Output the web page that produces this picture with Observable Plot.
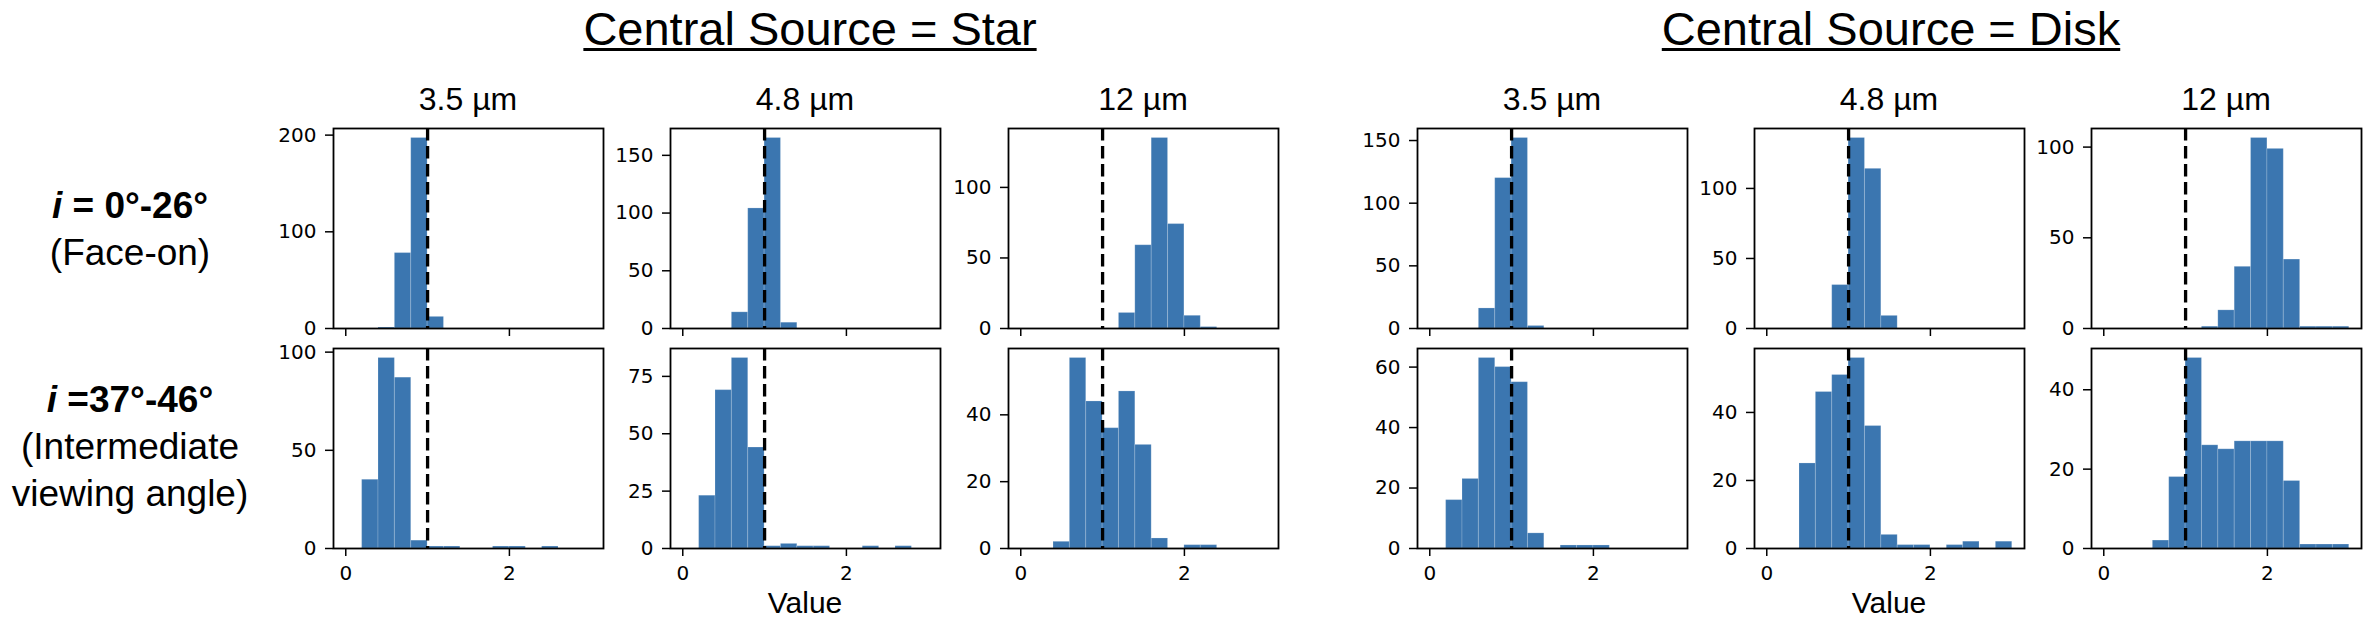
<!DOCTYPE html>
<html>
<head>
<meta charset="utf-8">
<script src="https://cdn.jsdelivr.net/npm/d3@7"></script>
<script src="https://cdn.jsdelivr.net/npm/@observablehq/plot@0.6"></script>
<style>
  body { margin: 0; background: #fff; }
  #fig { position: relative; width: 2370px; height: 624px; background: #fff; overflow: hidden;
         font-family: "Liberation Sans", Arial, Helvetica, sans-serif; color: #000; }
  .t { position: absolute; white-space: nowrap; line-height: 1; transform: translateX(-50%); text-align: center; }
  .panel { position: absolute; }
</style>
</head>
<body>
<div id="fig"></div>
<script>
// ---------------- data ----------------
const groupTitles = ["Central Source = Star", "Central Source = Disk"];
const wavelengths = ["3.5 µm", "4.8 µm", "12 µm"];
const rowLabelLines = [
  ["<b><i>i</i> = 0°-26°</b>", "(Face-on)"],
  ["<b><i>i</i> =37°-46°</b>", "(Intermediate", "viewing angle)"]
];
const xAxisLabel = "Value";
const binEdges = [0, 0.2, 0.4, 0.6, 0.8, 1.0, 1.2, 1.4, 1.6, 1.8, 2.0, 2.2, 2.4, 2.6, 2.8, 3.0];
const referenceValue = 1;
const xTicks = [0, 2];

// counts per bin (15 bins of width 0.2 from 0 to 3)
const star_faceOn_3p5  = [0, 0, 1, 78, 197, 12, 0, 0, 0, 0, 0, 0, 0, 0, 0];
const star_faceOn_4p8  = [0, 0, 0, 14, 104, 165, 5, 0, 0, 0, 0, 0, 0, 0, 0];
const star_faceOn_12   = [0, 0, 0, 0, 0, 0, 11, 59, 135, 74, 9, 1, 0, 0, 0];
const star_inter_3p5   = [0, 35, 97, 87, 4, 1, 1, 0, 0, 1, 1, 0, 1, 0, 0];
const star_inter_4p8   = [0, 23, 69, 83, 44, 1, 2, 1, 1, 0, 0, 1, 0, 1, 0];
const star_inter_12    = [0, 0, 2, 57, 44, 36, 47, 31, 3, 0, 1, 1, 0, 0, 0];
const disk_faceOn_3p5  = [0, 0, 0, 16, 120, 152, 2, 0, 0, 0, 0, 0, 0, 0, 0];
const disk_faceOn_4p8  = [0, 0, 0, 0, 31, 136, 114, 9, 0, 0, 0, 0, 0, 0, 0];
const disk_faceOn_12   = [0, 0, 0, 0, 0, 0, 1, 10, 34, 105, 99, 38, 1, 1, 1];
const disk_inter_3p5   = [0, 16, 23, 63, 60, 55, 5, 0, 1, 1, 1, 0, 0, 0, 0];
const disk_inter_4p8   = [0, 0, 25, 46, 51, 56, 36, 4, 1, 1, 0, 1, 2, 0, 2];
const disk_inter_12    = [0, 0, 0, 2, 18, 48, 26, 25, 27, 27, 27, 17, 1, 1, 1];

// y tick labels per panel
const yTicks_star_faceOn = [[0, 100, 200], [0, 50, 100, 150], [0, 50, 100]];
const yTicks_star_inter  = [[0, 50, 100], [0, 25, 50, 75], [0, 20, 40]];
const yTicks_disk_faceOn = [[0, 50, 100, 150], [0, 50, 100], [0, 50, 100]];
const yTicks_disk_inter  = [[0, 20, 40, 60], [0, 20, 40], [0, 20, 40]];

// ---------------- layout ----------------
const fig = document.getElementById("fig");
const BAR = "#3b76b0";
const W = 270, H = 200;
const ML = 70, MR = 10, MT = 10, MB = 52;
const colLeft = [333, 670, 1008, 1417, 1754, 2091];
const rowTop = [127.5, 348];

const panels = [
  [star_faceOn_3p5, star_faceOn_4p8, star_faceOn_12, disk_faceOn_3p5, disk_faceOn_4p8, disk_faceOn_12],
  [star_inter_3p5, star_inter_4p8, star_inter_12, disk_inter_3p5, disk_inter_4p8, disk_inter_12]
];
const ticks = [
  [...yTicks_star_faceOn, ...yTicks_disk_faceOn],
  [...yTicks_star_inter, ...yTicks_disk_inter]
];

function panel(counts, yt, row, col) {
  const bins = counts
    .map((c, i) => ({x1: binEdges[i], x2: binEdges[i + 1], count: c}))
    .filter(d => d.count > 0);
  const ymax = 1.05 * d3.max(counts);
  const svg = Plot.plot({
    width: ML + W + MR,
    height: MT + H + MB,
    marginLeft: ML, marginRight: MR, marginTop: MT, marginBottom: MB,
    x: {domain: [-0.15, 3.15]},
    y: {domain: [0, ymax]},
    style: {fontFamily: "'DejaVu Sans', sans-serif", fontSize: "20px", background: "transparent", overflow: "visible", color: "#000"},
    marks: [
      Plot.rect(bins, {x1: "x1", x2: "x2", y1: 0, y2: "count", fill: BAR, stroke: "#ffffff", strokeOpacity: 0.18, strokeWidth: 1}),
      Plot.ruleX([referenceValue], {stroke: "#000", strokeWidth: 3.3, strokeDasharray: "12.6,5.4"}),
      Plot.axisY({ticks: yt, tickSize: 8, tickPadding: 9, strokeWidth: 1.5, label: null, tickFormat: d => String(d)}),
      Plot.axisX({ticks: xTicks, tickSize: 8, tickPadding: 9, strokeWidth: 1.5, label: null,
                  tickFormat: row === 0 ? () => "" : d => String(d)}),
      Plot.frame({stroke: "#000", strokeWidth: 1.8})
    ]
  });
  svg.classList.add("panel");
  svg.style.left = (colLeft[col] - ML) + "px";
  svg.style.top = (rowTop[row] - MT) + "px";
  fig.appendChild(svg);
}

for (let r = 0; r < 2; r++)
  for (let c = 0; c < 6; c++)
    panel(panels[r][c], ticks[r][c], r, c);

function addText(html, cx, baseline, size, extra = {}) {
  const d = document.createElement("div");
  d.className = "t";
  d.innerHTML = html;
  d.style.left = cx + "px";
  d.style.top = (baseline - 0.8465 * size) + "px";
  d.style.fontSize = size + "px";
  Object.assign(d.style, extra);
  fig.appendChild(d);
  return d;
}

// group titles
const groupCenters = [810, 1891];
groupTitles.forEach((t, i) => addText(t, groupCenters[i], 45, 47, {
  textDecoration: "underline", textDecorationThickness: "3px", textUnderlineOffset: "3px"
}));

// column titles
for (let c = 0; c < 6; c++) addText(wavelengths[c % 3], colLeft[c] + W / 2, 110, 32);

// row labels
const rowBaselines = [218, 412];
rowLabelLines.forEach((lines, r) => {
  lines.forEach((l, k) => addText(l, 130, rowBaselines[r] + 47 * k, 37));
});

// x axis labels
[colLeft[1], colLeft[4]].forEach(x => addText(xAxisLabel, x + W / 2, 613, 30));
</script>
</body>
</html>
